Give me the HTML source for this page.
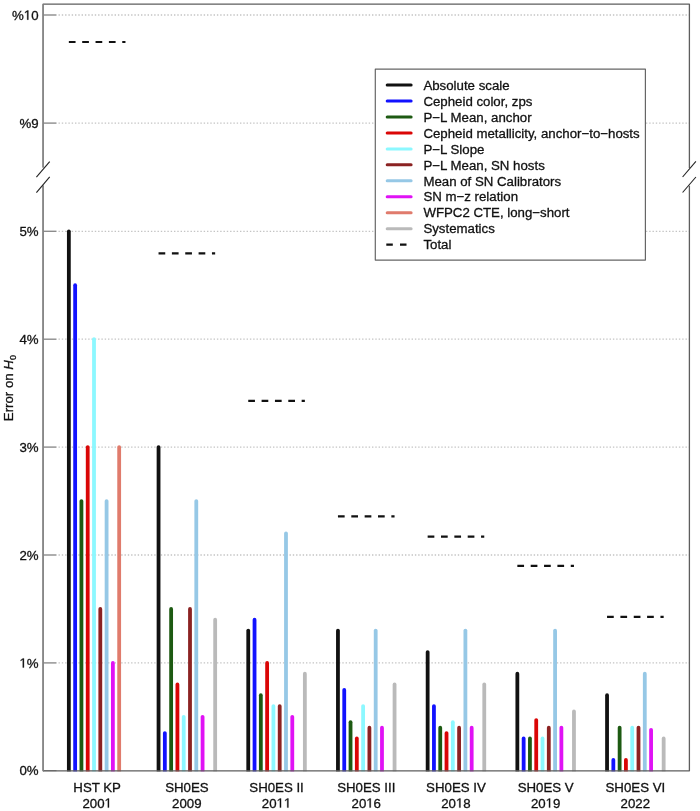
<!DOCTYPE html>
<html><head><meta charset="utf-8"><style>
html,body{margin:0;padding:0;background:#fff;}
body{width:700px;height:811px;overflow:hidden;font-family:"Liberation Sans",sans-serif;}
svg{display:block;will-change:transform;}
</style></head><body>
<svg width="700" height="811" viewBox="0 0 700 811">
<rect width="700" height="811" fill="#fff"/>
<line x1="58.5" y1="15.00" x2="689" y2="15.00" stroke="#c4c4c4" stroke-width="1.3" stroke-dasharray="1.4 1.9"/>
<line x1="58.5" y1="123.10" x2="689" y2="123.10" stroke="#c4c4c4" stroke-width="1.3" stroke-dasharray="1.4 1.9"/>
<line x1="58.5" y1="231.30" x2="689" y2="231.30" stroke="#c4c4c4" stroke-width="1.3" stroke-dasharray="1.4 1.9"/>
<line x1="58.5" y1="339.20" x2="689" y2="339.20" stroke="#c4c4c4" stroke-width="1.3" stroke-dasharray="1.4 1.9"/>
<line x1="58.5" y1="447.10" x2="689" y2="447.10" stroke="#c4c4c4" stroke-width="1.3" stroke-dasharray="1.4 1.9"/>
<line x1="58.5" y1="555.00" x2="689" y2="555.00" stroke="#c4c4c4" stroke-width="1.3" stroke-dasharray="1.4 1.9"/>
<line x1="58.5" y1="662.90" x2="689" y2="662.90" stroke="#c4c4c4" stroke-width="1.3" stroke-dasharray="1.4 1.9"/>
<rect x="375.3" y="69.2" width="270.1" height="190.9" fill="#fff" stroke="#666" stroke-width="1.2" stroke-linejoin="round"/>
<line x1="43" y1="15.00" x2="56.5" y2="15.00" stroke="#8c8c8c" stroke-width="1.4"/>
<line x1="43" y1="123.10" x2="56.5" y2="123.10" stroke="#8c8c8c" stroke-width="1.4"/>
<line x1="43" y1="231.30" x2="56.5" y2="231.30" stroke="#8c8c8c" stroke-width="1.4"/>
<line x1="43" y1="339.20" x2="56.5" y2="339.20" stroke="#8c8c8c" stroke-width="1.4"/>
<line x1="43" y1="447.10" x2="56.5" y2="447.10" stroke="#8c8c8c" stroke-width="1.4"/>
<line x1="43" y1="555.00" x2="56.5" y2="555.00" stroke="#8c8c8c" stroke-width="1.4"/>
<line x1="43" y1="662.90" x2="56.5" y2="662.90" stroke="#8c8c8c" stroke-width="1.4"/>
<line x1="43" y1="770.80" x2="56.5" y2="770.80" stroke="#8c8c8c" stroke-width="1.4"/>
<g stroke-linecap="round">
<line x1="68.85" y1="773.80" x2="68.85" y2="231.30" stroke="#111111" stroke-width="3.8"/>
<line x1="75.14" y1="773.80" x2="75.14" y2="285.25" stroke="#1212ff" stroke-width="3.8"/>
<line x1="81.43" y1="773.80" x2="81.43" y2="501.05" stroke="#1d5a12" stroke-width="3.8"/>
<line x1="87.72" y1="773.80" x2="87.72" y2="447.10" stroke="#da0606" stroke-width="3.8"/>
<line x1="94.01" y1="773.80" x2="94.01" y2="339.20" stroke="#8cf8ff" stroke-width="3.8"/>
<line x1="100.30" y1="773.80" x2="100.30" y2="608.95" stroke="#8b2222" stroke-width="3.8"/>
<line x1="106.59" y1="773.80" x2="106.59" y2="501.05" stroke="#96c8e6" stroke-width="3.8"/>
<line x1="112.88" y1="773.80" x2="112.88" y2="662.90" stroke="#e012f5" stroke-width="3.8"/>
<line x1="119.17" y1="773.80" x2="119.17" y2="447.10" stroke="#e07b6c" stroke-width="3.8"/>
<line x1="158.55" y1="773.80" x2="158.55" y2="447.10" stroke="#111111" stroke-width="3.8"/>
<line x1="164.84" y1="773.80" x2="164.84" y2="733.03" stroke="#1212ff" stroke-width="3.8"/>
<line x1="171.13" y1="773.80" x2="171.13" y2="608.95" stroke="#1d5a12" stroke-width="3.8"/>
<line x1="177.42" y1="773.80" x2="177.42" y2="684.48" stroke="#da0606" stroke-width="3.8"/>
<line x1="183.71" y1="773.80" x2="183.71" y2="716.85" stroke="#8cf8ff" stroke-width="3.8"/>
<line x1="190.00" y1="773.80" x2="190.00" y2="608.95" stroke="#8b2222" stroke-width="3.8"/>
<line x1="196.29" y1="773.80" x2="196.29" y2="501.05" stroke="#96c8e6" stroke-width="3.8"/>
<line x1="202.58" y1="773.80" x2="202.58" y2="716.85" stroke="#e012f5" stroke-width="3.8"/>
<line x1="215.16" y1="773.80" x2="215.16" y2="619.74" stroke="#bababa" stroke-width="3.8"/>
<line x1="248.25" y1="773.80" x2="248.25" y2="630.53" stroke="#111111" stroke-width="3.8"/>
<line x1="254.54" y1="773.80" x2="254.54" y2="619.74" stroke="#1212ff" stroke-width="3.8"/>
<line x1="260.83" y1="773.80" x2="260.83" y2="695.27" stroke="#1d5a12" stroke-width="3.8"/>
<line x1="267.12" y1="773.80" x2="267.12" y2="662.90" stroke="#da0606" stroke-width="3.8"/>
<line x1="273.41" y1="773.80" x2="273.41" y2="706.06" stroke="#8cf8ff" stroke-width="3.8"/>
<line x1="279.70" y1="773.80" x2="279.70" y2="706.06" stroke="#8b2222" stroke-width="3.8"/>
<line x1="285.99" y1="773.80" x2="285.99" y2="533.42" stroke="#96c8e6" stroke-width="3.8"/>
<line x1="292.28" y1="773.80" x2="292.28" y2="716.85" stroke="#e012f5" stroke-width="3.8"/>
<line x1="304.86" y1="773.80" x2="304.86" y2="673.69" stroke="#bababa" stroke-width="3.8"/>
<line x1="337.95" y1="773.80" x2="337.95" y2="630.53" stroke="#111111" stroke-width="3.8"/>
<line x1="344.24" y1="773.80" x2="344.24" y2="689.88" stroke="#1212ff" stroke-width="3.8"/>
<line x1="350.53" y1="773.80" x2="350.53" y2="722.24" stroke="#1d5a12" stroke-width="3.8"/>
<line x1="356.82" y1="773.80" x2="356.82" y2="738.43" stroke="#da0606" stroke-width="3.8"/>
<line x1="363.11" y1="773.80" x2="363.11" y2="706.06" stroke="#8cf8ff" stroke-width="3.8"/>
<line x1="369.40" y1="773.80" x2="369.40" y2="727.64" stroke="#8b2222" stroke-width="3.8"/>
<line x1="375.69" y1="773.80" x2="375.69" y2="630.53" stroke="#96c8e6" stroke-width="3.8"/>
<line x1="381.98" y1="773.80" x2="381.98" y2="727.64" stroke="#e012f5" stroke-width="3.8"/>
<line x1="394.56" y1="773.80" x2="394.56" y2="684.48" stroke="#bababa" stroke-width="3.8"/>
<line x1="427.65" y1="773.80" x2="427.65" y2="652.11" stroke="#111111" stroke-width="3.8"/>
<line x1="433.94" y1="773.80" x2="433.94" y2="706.06" stroke="#1212ff" stroke-width="3.8"/>
<line x1="440.23" y1="773.80" x2="440.23" y2="727.64" stroke="#1d5a12" stroke-width="3.8"/>
<line x1="446.52" y1="773.80" x2="446.52" y2="733.03" stroke="#da0606" stroke-width="3.8"/>
<line x1="452.81" y1="773.80" x2="452.81" y2="722.24" stroke="#8cf8ff" stroke-width="3.8"/>
<line x1="459.10" y1="773.80" x2="459.10" y2="727.64" stroke="#8b2222" stroke-width="3.8"/>
<line x1="465.39" y1="773.80" x2="465.39" y2="630.53" stroke="#96c8e6" stroke-width="3.8"/>
<line x1="471.68" y1="773.80" x2="471.68" y2="727.64" stroke="#e012f5" stroke-width="3.8"/>
<line x1="484.26" y1="773.80" x2="484.26" y2="684.48" stroke="#bababa" stroke-width="3.8"/>
<line x1="517.35" y1="773.80" x2="517.35" y2="673.69" stroke="#111111" stroke-width="3.8"/>
<line x1="523.64" y1="773.80" x2="523.64" y2="738.43" stroke="#1212ff" stroke-width="3.8"/>
<line x1="529.93" y1="773.80" x2="529.93" y2="738.43" stroke="#1d5a12" stroke-width="3.8"/>
<line x1="536.22" y1="773.80" x2="536.22" y2="720.09" stroke="#da0606" stroke-width="3.8"/>
<line x1="542.51" y1="773.80" x2="542.51" y2="738.43" stroke="#8cf8ff" stroke-width="3.8"/>
<line x1="548.80" y1="773.80" x2="548.80" y2="727.64" stroke="#8b2222" stroke-width="3.8"/>
<line x1="555.09" y1="773.80" x2="555.09" y2="630.53" stroke="#96c8e6" stroke-width="3.8"/>
<line x1="561.38" y1="773.80" x2="561.38" y2="727.64" stroke="#e012f5" stroke-width="3.8"/>
<line x1="573.96" y1="773.80" x2="573.96" y2="711.45" stroke="#bababa" stroke-width="3.8"/>
<line x1="607.05" y1="773.80" x2="607.05" y2="695.27" stroke="#111111" stroke-width="3.8"/>
<line x1="613.34" y1="773.80" x2="613.34" y2="760.01" stroke="#1212ff" stroke-width="3.8"/>
<line x1="619.63" y1="773.80" x2="619.63" y2="727.64" stroke="#1d5a12" stroke-width="3.8"/>
<line x1="625.92" y1="773.80" x2="625.92" y2="760.01" stroke="#da0606" stroke-width="3.8"/>
<line x1="632.21" y1="773.80" x2="632.21" y2="727.64" stroke="#8cf8ff" stroke-width="3.8"/>
<line x1="638.50" y1="773.80" x2="638.50" y2="727.64" stroke="#8b2222" stroke-width="3.8"/>
<line x1="644.79" y1="773.80" x2="644.79" y2="673.69" stroke="#96c8e6" stroke-width="3.8"/>
<line x1="651.08" y1="773.80" x2="651.08" y2="729.80" stroke="#e012f5" stroke-width="3.8"/>
<line x1="663.66" y1="773.80" x2="663.66" y2="738.43" stroke="#bababa" stroke-width="3.8"/>
</g>
<rect x="44" y="771.40" width="645" height="6" fill="#fff"/>
<line x1="68.85" y1="42.02" x2="125.46" y2="42.02" stroke="#111" stroke-width="2.2" stroke-dasharray="6.7 6.65"/>
<line x1="158.55" y1="253.30" x2="215.16" y2="253.30" stroke="#111" stroke-width="2.2" stroke-dasharray="6.7 6.65"/>
<line x1="248.25" y1="400.90" x2="304.86" y2="400.90" stroke="#111" stroke-width="2.2" stroke-dasharray="6.7 6.65"/>
<line x1="337.95" y1="516.40" x2="394.56" y2="516.40" stroke="#111" stroke-width="2.2" stroke-dasharray="6.7 6.65"/>
<line x1="427.65" y1="536.70" x2="484.26" y2="536.70" stroke="#111" stroke-width="2.2" stroke-dasharray="6.7 6.65"/>
<line x1="517.35" y1="565.90" x2="573.96" y2="565.90" stroke="#111" stroke-width="2.2" stroke-dasharray="6.7 6.65"/>
<line x1="607.05" y1="616.80" x2="663.66" y2="616.80" stroke="#111" stroke-width="2.2" stroke-dasharray="6.7 6.65"/>
<path d="M43.1 167.5 V4.2 H689.4 V168" fill="none" stroke="#5e5e5e" stroke-width="1.3" stroke-linejoin="round"/>
<path d="M43.1 185.5 V770.80 H689.4 V185.8" fill="none" stroke="#5e5e5e" stroke-width="1.3" stroke-linejoin="round"/>
<line x1="43.1" y1="4.2" x2="43.1" y2="167.5" stroke="#8a8a8a" stroke-width="1.5"/>
<line x1="43.1" y1="185.5" x2="43.1" y2="770.80" stroke="#8a8a8a" stroke-width="1.5"/>
<g stroke="#222" stroke-width="1.1">
<line x1="36.4" y1="177.2" x2="49.7" y2="161.7"/><line x1="36.4" y1="192.7" x2="49.7" y2="176.9"/>
<line x1="682.6" y1="177.0" x2="695.9" y2="161.4"/><line x1="682.6" y1="192.5" x2="695.9" y2="177.0"/>
</g>
<g font-family="Liberation Sans, sans-serif" font-size="13.25" fill="#111" stroke="#111" stroke-width="0.3" text-anchor="end">
<text x="38.6" y="19.65">% 0</text>
<text x="38.6" y="127.75">%9</text>
<text x="38.6" y="235.95">5%</text>
<text x="38.6" y="343.85">4%</text>
<text x="38.6" y="451.75">3%</text>
<text x="38.6" y="559.65">2%</text>
<text x="38.6" y="667.55"> %</text>
<text x="38.6" y="775.45">0%</text>
</g>
<g font-family="Liberation Sans, sans-serif" font-size="13.25" fill="#111" stroke="#111" stroke-width="0.3" text-anchor="middle">
<text x="97.16" y="791.7">HST KP</text><text x="97.16" y="807.6">200 </text>
<text x="186.86" y="791.7">SH0ES</text><text x="186.86" y="807.6">2009</text>
<text x="276.56" y="791.7">SH0ES II</text><text x="276.56" y="807.6">20  </text>
<text x="366.26" y="791.7">SH0ES III</text><text x="366.26" y="807.6">20 6</text>
<text x="455.95" y="791.7">SH0ES IV</text><text x="455.95" y="807.6">20 8</text>
<text x="545.65" y="791.7">SH0ES V</text><text x="545.65" y="807.6">20 9</text>
<text x="635.36" y="791.7">SH0ES VI</text><text x="635.36" y="807.6">2022</text>
</g>
<text transform="translate(12.6 388.1) rotate(-90)" font-family="Liberation Sans, sans-serif" font-size="13.25" fill="#111" stroke="#111" stroke-width="0.3" text-anchor="middle">Error on <tspan font-style="italic">H</tspan><tspan font-size="9" dy="3">0</tspan></text>
<line x1="387.2" y1="85.10" x2="411.1" y2="85.10" stroke="#111111" stroke-width="3" stroke-linecap="round"/>
<text x="423.4" y="89.80" font-family="Liberation Sans, sans-serif" font-size="13.25" fill="#111" stroke="#111" stroke-width="0.3">Absolute scale</text>
<line x1="387.2" y1="101.05" x2="411.1" y2="101.05" stroke="#1212ff" stroke-width="3" stroke-linecap="round"/>
<text x="423.4" y="105.75" font-family="Liberation Sans, sans-serif" font-size="13.25" fill="#111" stroke="#111" stroke-width="0.3">Cepheid color, zps</text>
<line x1="387.2" y1="117.00" x2="411.1" y2="117.00" stroke="#1d5a12" stroke-width="3" stroke-linecap="round"/>
<text x="423.4" y="121.70" font-family="Liberation Sans, sans-serif" font-size="13.25" fill="#111" stroke="#111" stroke-width="0.3">P−L Mean, anchor</text>
<line x1="387.2" y1="132.95" x2="411.1" y2="132.95" stroke="#da0606" stroke-width="3" stroke-linecap="round"/>
<text x="423.4" y="137.65" font-family="Liberation Sans, sans-serif" font-size="13.25" fill="#111" stroke="#111" stroke-width="0.3">Cepheid metallicity, anchor−to−hosts</text>
<line x1="387.2" y1="148.90" x2="411.1" y2="148.90" stroke="#8cf8ff" stroke-width="3" stroke-linecap="round"/>
<text x="423.4" y="153.60" font-family="Liberation Sans, sans-serif" font-size="13.25" fill="#111" stroke="#111" stroke-width="0.3">P−L Slope</text>
<line x1="387.2" y1="164.85" x2="411.1" y2="164.85" stroke="#8b2222" stroke-width="3" stroke-linecap="round"/>
<text x="423.4" y="169.55" font-family="Liberation Sans, sans-serif" font-size="13.25" fill="#111" stroke="#111" stroke-width="0.3">P−L Mean, SN hosts</text>
<line x1="387.2" y1="180.80" x2="411.1" y2="180.80" stroke="#96c8e6" stroke-width="3" stroke-linecap="round"/>
<text x="423.4" y="185.50" font-family="Liberation Sans, sans-serif" font-size="13.25" fill="#111" stroke="#111" stroke-width="0.3">Mean of SN Calibrators</text>
<line x1="387.2" y1="196.75" x2="411.1" y2="196.75" stroke="#e012f5" stroke-width="3" stroke-linecap="round"/>
<text x="423.4" y="201.45" font-family="Liberation Sans, sans-serif" font-size="13.25" fill="#111" stroke="#111" stroke-width="0.3">SN m−z relation</text>
<line x1="387.2" y1="212.70" x2="411.1" y2="212.70" stroke="#e07b6c" stroke-width="3" stroke-linecap="round"/>
<text x="423.4" y="217.40" font-family="Liberation Sans, sans-serif" font-size="13.25" fill="#111" stroke="#111" stroke-width="0.3">WFPC2 CTE, long−short</text>
<line x1="387.2" y1="228.65" x2="411.1" y2="228.65" stroke="#bababa" stroke-width="3" stroke-linecap="round"/>
<text x="423.4" y="233.35" font-family="Liberation Sans, sans-serif" font-size="13.25" fill="#111" stroke="#111" stroke-width="0.3">Systematics</text>
<line x1="386.3" y1="244.60" x2="412" y2="244.60" stroke="#111" stroke-width="2.4" stroke-dasharray="6.5 7.2"/>
<text x="423.4" y="249.30" font-family="Liberation Sans, sans-serif" font-size="13.25" fill="#111" stroke="#111" stroke-width="0.3">Total</text>
<path transform="translate(23.85 19.65) scale(0.006470 -0.006470)" d="M515 0V1237L197 1010V1180L530 1409H696V0Z" fill="#111" stroke="#111" stroke-width="46.4"/>
<path transform="translate(19.44 667.55) scale(0.006470 -0.006470)" d="M515 0V1237L197 1010V1180L530 1409H696V0Z" fill="#111" stroke="#111" stroke-width="46.4"/>
<path transform="translate(104.51 807.60) scale(0.006470 -0.006470)" d="M515 0V1237L197 1010V1180L530 1409H696V0Z" fill="#111" stroke="#111" stroke-width="46.4"/>
<path transform="translate(276.55 807.60) scale(0.006470 -0.006470)" d="M515 0V1237L197 1010V1180L530 1409H696V0Z" fill="#111" stroke="#111" stroke-width="46.4"/>
<path transform="translate(283.91 807.60) scale(0.006470 -0.006470)" d="M515 0V1237L197 1010V1180L530 1409H696V0Z" fill="#111" stroke="#111" stroke-width="46.4"/>
<path transform="translate(366.25 807.60) scale(0.006470 -0.006470)" d="M515 0V1237L197 1010V1180L530 1409H696V0Z" fill="#111" stroke="#111" stroke-width="46.4"/>
<path transform="translate(455.94 807.60) scale(0.006470 -0.006470)" d="M515 0V1237L197 1010V1180L530 1409H696V0Z" fill="#111" stroke="#111" stroke-width="46.4"/>
<path transform="translate(545.64 807.60) scale(0.006470 -0.006470)" d="M515 0V1237L197 1010V1180L530 1409H696V0Z" fill="#111" stroke="#111" stroke-width="46.4"/>
</svg>
</body></html>
